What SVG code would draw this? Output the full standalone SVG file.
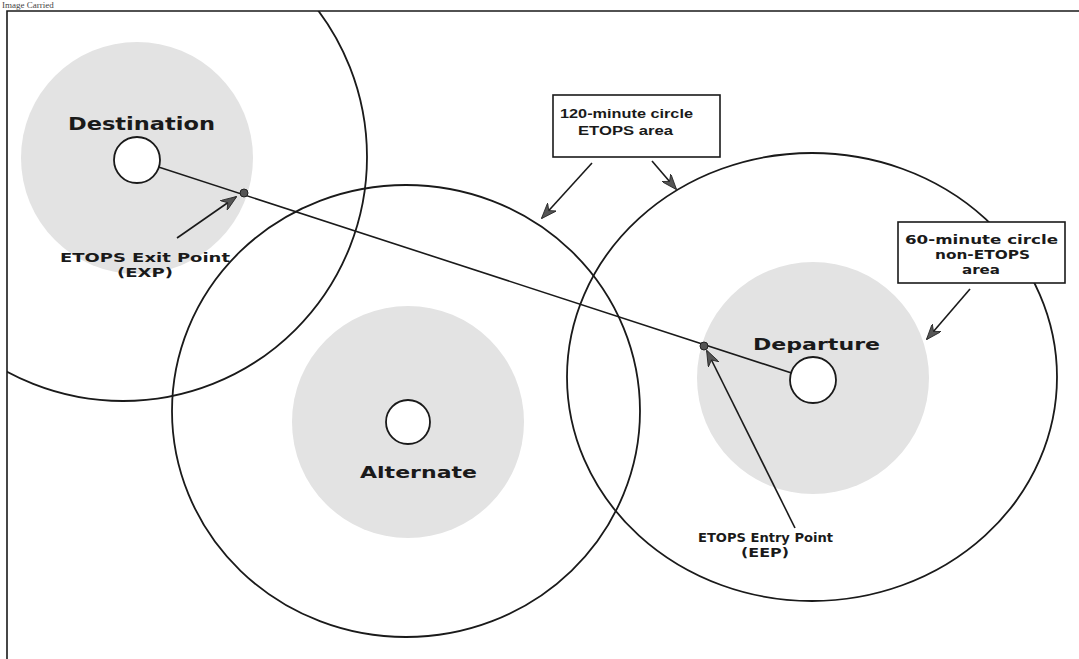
<svg xmlns="http://www.w3.org/2000/svg" width="1079" height="659" viewBox="0 0 1079 659">
<defs>
<style>
.shade{fill:#e3e3e3;stroke:none}
.outer{fill:none;stroke:#1a1a1a;stroke-width:1.8}
.apt{fill:#fff;stroke:#1a1a1a;stroke-width:1.8}
.dot{fill:#555;stroke:#222;stroke-width:1}
.lbl{font-family:"DejaVu Sans",sans-serif;font-weight:bold;fill:#1a1a1a}
.box{fill:#fff;stroke:#1a1a1a;stroke-width:1.6}
.arr{fill:none;stroke:#1a1a1a;stroke-width:1.6}
.route{fill:none;stroke:#1a1a1a;stroke-width:1.6}
</style>
<marker id="ah" viewBox="0 0 16 12" refX="15" refY="6" markerWidth="16" markerHeight="12" markerUnits="userSpaceOnUse" orient="auto">
<path d="M0,0 L16,6 L0,12 L5,6 z" fill="#555" stroke="#222" stroke-width="0.8"/>
</marker>
<clipPath id="frame"><rect x="7" y="11" width="1072" height="648"/></clipPath>
</defs>
<rect width="1079" height="659" fill="#fff"/>
<text x="2" y="8" font-family="Liberation Serif, serif" font-size="9" fill="#444">Image Carried</text>
<g id="frame-lines">
<path d="M7,659 L7,11 L1079,11" fill="none" stroke="#1a1a1a" stroke-width="1.6"/>
</g>
<g id="shading" clip-path="url(#frame)">
<circle class="shade" cx="137" cy="158" r="116"/>
<circle class="shade" cx="408" cy="422" r="116"/>
<circle class="shade" cx="813" cy="378" r="116"/>
</g>
<g id="outer-circles" clip-path="url(#frame)">
<circle id="dest-120" class="outer" cx="123" cy="157" r="244"/>
<ellipse id="alt-120" class="outer" cx="406" cy="411" rx="234" ry="226"/>
<ellipse id="dep-120" class="outer" cx="812" cy="377" rx="245" ry="224"/>
</g>
<g id="connectors">
<path id="route" class="route" d="M137,160 L813,380"/>
<path id="exp-arrow" class="arr" d="M177,238 L236,197" marker-end="url(#ah)"/>
<path id="eep-arrow" class="arr" d="M795,528 L707,351" marker-end="url(#ah)"/>
<path id="a120-left" class="arr" d="M592,163 L542,218" marker-end="url(#ah)"/>
<path id="a120-right" class="arr" d="M652,161 L676,189" marker-end="url(#ah)"/>
<path id="a60" class="arr" d="M970,289 L927,339" marker-end="url(#ah)"/>
</g>
<g id="destination">
<circle class="apt" cx="137" cy="160" r="23"/>
<text class="lbl" x="68" y="130" font-size="17" textLength="147" lengthAdjust="spacingAndGlyphs">Destination</text>
</g>
<g id="alternate">
<circle class="apt" cx="408" cy="422" r="22"/>
<text class="lbl" x="360" y="478" font-size="16" textLength="117" lengthAdjust="spacingAndGlyphs">Alternate</text>
</g>
<g id="departure">
<circle class="apt" cx="813" cy="380" r="23"/>
<text class="lbl" x="753" y="350" font-size="16" textLength="127" lengthAdjust="spacingAndGlyphs">Departure</text>
</g>
<g id="exp">
<circle class="dot" cx="244" cy="193" r="4"/>
<text class="lbl" x="60" y="262" font-size="12" textLength="170" lengthAdjust="spacingAndGlyphs">ETOPS Exit Point</text>
<text class="lbl" x="117" y="277" font-size="12" textLength="56" lengthAdjust="spacingAndGlyphs">(EXP)</text>
</g>
<g id="eep">
<circle class="dot" cx="704" cy="346" r="4"/>
<text class="lbl" x="698" y="542" font-size="12" textLength="135" lengthAdjust="spacingAndGlyphs">ETOPS Entry Point</text>
<text class="lbl" x="741" y="557" font-size="12" textLength="48" lengthAdjust="spacingAndGlyphs">(EEP)</text>
</g>
<g id="box-120">
<rect class="box" x="553" y="95" width="167" height="62"/>
<text x="560" y="118" font-family="Liberation Sans, sans-serif" font-weight="bold" font-size="12.5" fill="#1a1a1a" textLength="133" lengthAdjust="spacingAndGlyphs">120-minute circle</text>
<text x="578" y="135" font-family="Liberation Sans, sans-serif" font-weight="bold" font-size="12.5" fill="#1a1a1a" textLength="95" lengthAdjust="spacingAndGlyphs">ETOPS area</text>
</g>
<g id="box-60">
<rect class="box" x="898" y="222" width="167" height="61"/>
<text class="lbl" x="905" y="244" font-size="12.5" textLength="153" lengthAdjust="spacingAndGlyphs">60-minute circle</text>
<text class="lbl" x="935" y="259" font-size="12.5" textLength="95" lengthAdjust="spacingAndGlyphs">non-ETOPS</text>
<text class="lbl" x="962" y="274" font-size="12.5" textLength="38" lengthAdjust="spacingAndGlyphs">area</text>
</g>
</svg>
